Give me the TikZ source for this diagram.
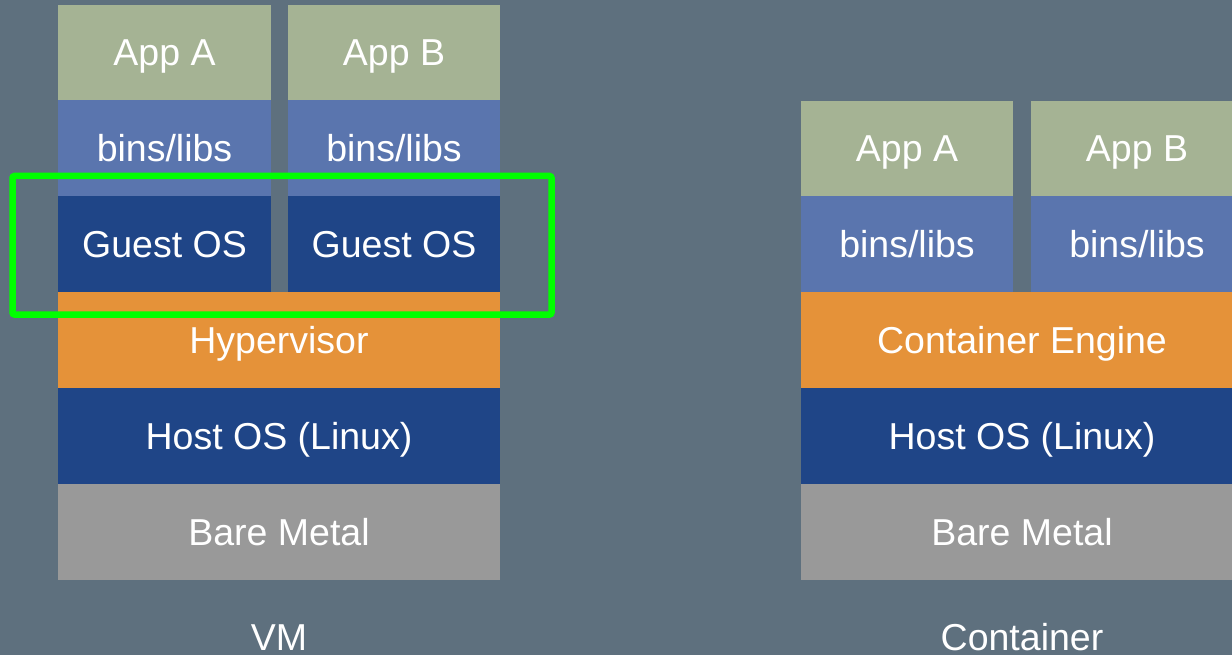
\documentclass[tikz,border=0pt]{standalone}
\usepackage{fontspec}
\setmainfont{Liberation Sans}
\definecolor{bgc}{HTML}{5E707E}
\definecolor{appc}{HTML}{A5B394}
\definecolor{binc}{HTML}{5A75AE}
\definecolor{osc}{HTML}{1F4587}
\definecolor{engc}{HTML}{E59239}
\definecolor{metalc}{HTML}{999999}
\definecolor{hlc}{HTML}{00FF00}
\begin{document}
\begin{tikzpicture}[x=1pt,y=-1pt,
  layer/.style={rectangle, inner sep=0pt, text=white, font=\fontsize{37.5}{41}\selectfont, text height=27pt, text depth=0pt},
  colbox/.style={layer, minimum width=212.5pt, minimum height=95.5pt},
  fullbox/.style={layer, minimum width=442pt, minimum height=96pt},
  caption/.style={inner sep=0pt, text=white, font=\fontsize{37.5}{41}\selectfont, text height=27pt, text depth=0pt},
  hl/.style={draw=hlc, line width=6.5pt, rounded corners=2pt}]
\useasboundingbox (0,0) rectangle (1232,655);
\fill[bgc] (0,0) rectangle (1232,655);
\begin{scope}
\clip (0,0) rectangle (1232,655);
% VM stack
\node[colbox, fill=appc] (vappa) at (164.5,52.5) {App A};
\node[colbox, fill=appc] (vappb) at (394,52.5) {App B};
\node[colbox, fill=binc] (vbina) at (164.5,148) {bins/libs};
\node[colbox, fill=binc] (vbinb) at (394,148) {bins/libs};
\node[colbox, fill=osc] (vgosa) at (164.5,244) {Guest OS};
\node[colbox, fill=osc] (vgosb) at (394,244) {Guest OS};
\node[fullbox, fill=engc] (vhyp) at (279,340) {Hypervisor};
\node[fullbox, fill=osc] (vhost) at (279,436) {Host OS (Linux)};
\node[fullbox, fill=metalc] (vmetal) at (279,532) {Bare Metal};
\node[caption] (vmlabel) at (279,636.5) {VM};
% Container stack
\node[colbox, fill=appc] (cappa) at (907,148.5) {App A};
\node[colbox, fill=appc] (cappb) at (1137,148.5) {App B};
\node[colbox, fill=binc] (cbina) at (907,244) {bins/libs};
\node[colbox, fill=binc] (cbinb) at (1137,244) {bins/libs};
\node[fullbox, fill=engc] (ceng) at (1022,340) {Container Engine};
\node[fullbox, fill=osc] (chost) at (1022,436) {Host OS (Linux)};
\node[fullbox, fill=metalc] (cmetal) at (1022,532) {Bare Metal};
\node[caption] (ctlabel) at (1022,636.5) {Container};
% highlight
\draw[hl] (12.5,176) rectangle (551.5,314.5);
\end{scope}
\end{tikzpicture}
\end{document}
